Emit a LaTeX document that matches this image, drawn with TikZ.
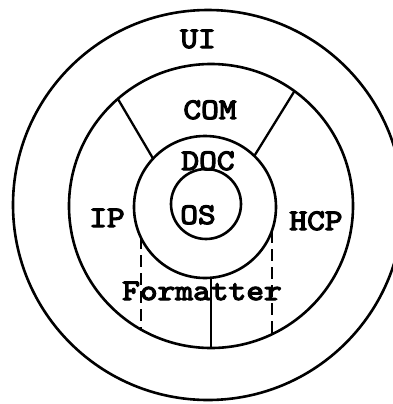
\documentclass[tikz,border=0pt]{standalone}
\usepackage{fontspec}
\newfontfamily\typefont{lmmono10-regular.otf}[FakeStretch=1.13,FakeBold=4]
\usetikzlibrary{calc}
\tikzset{
  ring/.style  ={draw,circle,line width=2.6bp,inner sep=0pt,outer sep=0pt},
  lbl/.style   ={font={\typefont\fontsize{30}{30}\selectfont},
                 inner sep=0pt,anchor=base},
  spoke/.style ={line width=2.3bp},
  split/.style ={line width=1.8bp,dash pattern=on 12bp off 6bp},
}

\begin{document}
\begin{tikzpicture}[x=1bp,y=-1bp]
\useasboundingbox (0,0) rectangle (393,404);
\clip (0,0) rectangle (393,404);
% rings
\node[ring,minimum size=390bp] (ui)  at (208,205) {};
\node[ring,minimum size=284bp] (mid) at (211,206) {};
\node[ring,minimum size=142bp] (doc) at (205,207) {};
\node[ring,minimum size=70bp]  (os)  at (206,204) {};
% spokes
\draw[spoke] (mid.131) -- (doc.137);
\draw[spoke] (mid.54)  -- (doc.46);
\draw[spoke] (doc.south -| mid.south) -- (mid.south);
\draw[split] (doc.205) -- (doc.205 |- mid.240);
\draw[split] (doc.340) -- (doc.340 |- mid.297);
% labels
\node[lbl] (uilbl)  at (198,48)  {UI};
\node[lbl] (comlbl) at (210,119) {COM};
\node[lbl] (doclbl) at (208,170) {DOC};
\node[lbl] (oslbl)  at (198,224) {OS};
\node[lbl] (iplbl)  at (107,227) {IP};
\node[lbl] (hcplbl) at (316,230) {HCP};
\node[lbl] (fmtlbl) at (202,300) {Formatter};
\end{tikzpicture}
\end{document}
